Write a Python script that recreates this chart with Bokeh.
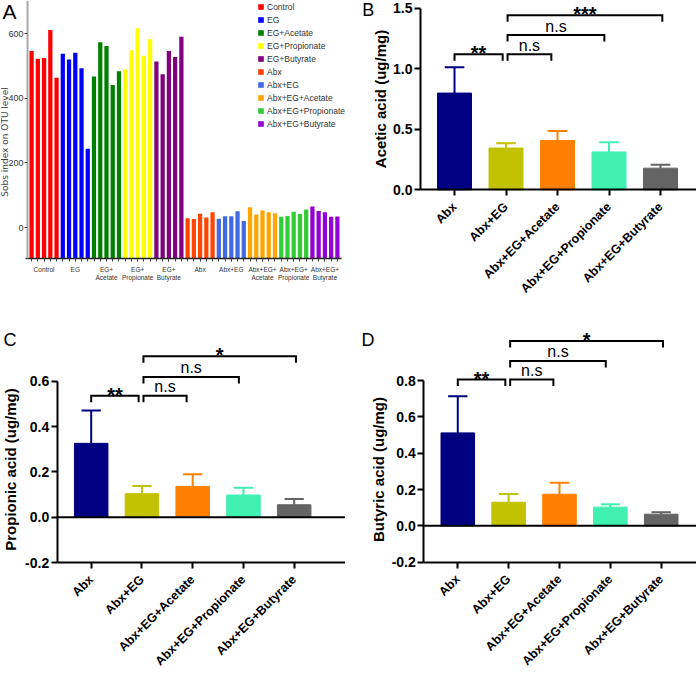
from math import pi
from bokeh.plotting import figure
from bokeh.models import Range1d, FixedTicker, Label, PrintfTickFormatter
from bokeh.layouts import column, row
from bokeh.embed import file_html
from bokeh.resources import INLINE
from bokeh.core.properties import value

FONT = "Liberation Sans"

# ---------------- Panel A data ----------------
a_groups = ["Control", "EG", "EG+Acetate", "EG+Propionate", "EG+Butyrate",
            "Abx", "Abx+EG", "Abx+EG+Acetate", "Abx+EG+Propionate", "Abx+EG+Butyrate"]
a_tick_labels = ["Control", "EG", "EG+\nAcetate", "EG+\nPropionate", "EG+\nButyrate",
                 "Abx", "Abx+EG", "Abx+EG+\nAcetate", "Abx+EG+\nPropionate", "Abx+EG+\nButyrate"]
sobs_control = [547, 523, 525, 612, 464]
sobs_eg = [538, 520, 541, 493, 244]
sobs_eg_acetate = [468, 574, 562, 441, 484]
sobs_eg_propionate = [489, 549, 617, 532, 583]
sobs_eg_butyrate = [514, 475, 547, 528, 591]
sobs_abx = [29, 26, 43, 31, 47]
sobs_abx_eg = [27, 35, 35, 50, 20]
sobs_abx_eg_acetate = [63, 40, 53, 47, 44]
sobs_abx_eg_propionate = [33, 36, 49, 42, 56]
sobs_abx_eg_butyrate = [65, 51, 47, 33, 34]
a_values = [sobs_control, sobs_eg, sobs_eg_acetate, sobs_eg_propionate, sobs_eg_butyrate,
            sobs_abx, sobs_abx_eg, sobs_abx_eg_acetate, sobs_abx_eg_propionate, sobs_abx_eg_butyrate]
a_colors = ["#FF0000", "#0000FF", "#008000", "#FFFF00", "#800080",
            "#FF4500", "#4169E1", "#FFA500", "#32CD32", "#9400D3"]
a_yticks = [0, 200, 400, 600]

# ---------------- Panels B-D data ----------------
scfa_groups = ["Abx", "Abx+EG", "Abx+EG+Acetate", "Abx+EG+Propionate", "Abx+EG+Butyrate"]
scfa_colors = ["#000080", "#C2C200", "#FF8000", "#40F0B0", "#646464"]

acetic_mean = [0.800, 0.345, 0.408, 0.313, 0.179]
acetic_err = [0.214, 0.041, 0.078, 0.081, 0.028]
propionic_mean = [0.326, 0.104, 0.136, 0.098, 0.055]
propionic_err = [0.145, 0.034, 0.054, 0.032, 0.025]
butyric_mean = [0.512, 0.130, 0.174, 0.103, 0.064]
butyric_err = [0.202, 0.046, 0.063, 0.016, 0.011]

sig_pairs = [(0, 1), (1, 2), (1, 3), (1, 4)]
acetic_sig_text = ["**", "n.s", "n.s", "***"]
acetic_sig_y = [1.122, 1.122, 1.280, 1.443]
propionic_sig_text = ["**", "n.s", "n.s", "*"]
propionic_sig_y = [0.536, 0.536, 0.619, 0.711]
butyric_sig_text = ["**", "n.s", "n.s", "*"]
butyric_sig_y = [0.806, 0.806, 0.908, 1.018]


def base_fig(width, height, xr, yr):
    p = figure(width=width, height=height, x_range=Range1d(*xr), y_range=Range1d(*yr),
               output_backend="svg", toolbar_location=None,
               min_border_left=0, min_border_right=0,
               min_border_top=0, min_border_bottom=0)
    p.outline_line_color = None
    p.xgrid.visible = False
    p.ygrid.visible = False
    p.background_fill_color = "white"
    return p


def side_label(p, text, x, y_from_top, size, style, color="black", font=FONT):
    p.add_layout(Label(x=x, y=p.height - y_from_top, x_units="screen", y_units="screen",
                       text=text, angle=pi / 2, text_font=font, text_font_size=size,
                       text_font_style=style, text_color=color,
                       text_align="center", text_baseline="middle"))


def letter(p, text, x, y_from_top, size):
    p.add_layout(Label(x=x, y=p.height - y_from_top, x_units="screen", y_units="screen",
                       text=text, text_font=FONT, text_font_size=size,
                       text_align="left", text_baseline="middle", text_color="black"))


# ---------------- Panel A ----------------
A_YMIN = -96
pa = base_fig(345, 328, (-4.984, 50.30), (-312.7, 703))
n_per = len(sobs_control)
for g, (name, vals, col) in enumerate(zip(a_groups, a_values, a_colors)):
    xs = [g * n_per + j for j in range(n_per)]
    pa.vbar(x=xs, top=vals, bottom=A_YMIN, width=0.68, fill_color=col,
            line_color=None, legend_label=name)

ya = pa.yaxis[0]
ya.fixed_location = -0.657
ya.bounds = (A_YMIN, 703)
ya.ticker = FixedTicker(ticks=a_yticks)
ya.axis_line_color = "#A8A8A8"
ya.axis_line_width = 2
ya.major_tick_out = 3
ya.major_tick_in = 0
ya.major_tick_line_color = "#444444"
ya.minor_tick_line_color = None
ya.major_label_text_font = FONT
ya.major_label_text_font_size = "9px"
ya.major_label_text_color = "#333333"
ya.major_label_standoff = 1

group_centers = [g * n_per + (n_per - 1) / 2 for g in range(len(a_groups))]
xa = pa.xaxis[0]
xa.fixed_location = A_YMIN
xa.bounds = (-0.978, 49.63)
xa.ticker = FixedTicker(ticks=group_centers, minor_ticks=list(range(len(a_groups) * n_per)))
xa.major_label_overrides = {c: lab for c, lab in zip(group_centers, a_tick_labels)}
xa.major_label_text_font = FONT
xa.major_label_text_font_size = "6.5px"
xa.major_label_text_color = "#333333"
xa.major_label_standoff = 4
xa.axis_line_color = "#222222"
xa.axis_line_width = 1.5
xa.major_tick_out = 3
xa.major_tick_in = 0
xa.minor_tick_out = 3
xa.minor_tick_in = 0
xa.major_tick_line_color = "#444444"
xa.minor_tick_line_color = "#444444"

lg = pa.legend[0]
lg.location = (257, 198)
lg.label_text_font = FONT
lg.label_text_font_size = "8.5px"
lg.label_text_color = "#333333"
lg.glyph_width = 7
lg.glyph_height = 7
lg.label_height = 13
lg.label_standoff = 3
lg.spacing = 0
lg.padding = 0
lg.margin = 0
lg.background_fill_alpha = 0
lg.border_line_alpha = 0

side_label(pa, "Sobs index on OTU level", 4.6, 141.5, "9px", "normal", "#444444",
           font="DejaVu Sans")
letter(pa, "A", 2, 10.5, "21px")


# ---------------- Panels B-D ----------------
def scfa_panel(means, errs, sig_y, sig_text, ylabel, xr, yr, y_axis_x, ybounds, yticks,
               x_axis_y, width, height, zero_line, lab_xy, let, let_xy):
    xs = list(range(len(scfa_groups)))
    p = base_fig(width, height, xr, yr)
    p.vbar(x=xs, top=means, bottom=0, width=0.66, fill_color=scfa_colors,
           line_color=scfa_colors, line_width=1)
    tops = [m + e for m, e in zip(means, errs)]
    p.segment(x0=xs, y0=means, x1=xs, y1=tops, line_color=scfa_colors, line_width=2)
    cap = 0.19
    p.segment(x0=[x - cap for x in xs], y0=tops, x1=[x + cap for x in xs], y1=tops,
              line_color=scfa_colors, line_width=2)
    if zero_line:
        p.segment(x0=[y_axis_x], y0=[0], x1=[xr[1]], y1=[0], line_color="black", line_width=2)

    # significance brackets
    px = (yr[1] - yr[0]) / height
    leg = 6.5 * px
    start_off = {0: 0.0, 1: 0.03}
    end_off = {1: -0.065, 2: -0.12, 3: -0.09, 4: 0.035}
    bxs, bys, tx, ty = [], [], [], []
    for (i, j), yv in zip(sig_pairs, sig_y):
        x0 = xs[i] + start_off[i]
        x1 = xs[j] + end_off[j]
        bxs.append([x0, x0, x1, x1])
        bys.append([yv - leg, yv, yv, yv - leg])
        tx.append((x0 + x1) / 2)
        ty.append(yv)
    p.multi_line(xs=bxs, ys=bys, line_color="black", line_width=2, line_join="miter")
    star = [k for k, t in enumerate(sig_text) if t.startswith("*")]
    ns = [k for k, t in enumerate(sig_text) if not t.startswith("*")]
    p.text(x=[tx[k] for k in star], y=[ty[k] for k in star], text=[sig_text[k] for k in star],
           text_font=value(FONT), text_font_size="20px", text_font_style="bold",
           text_align="center", text_baseline="middle", y_offset=-1, text_color="black")
    p.text(x=[tx[k] for k in ns], y=[ty[k] for k in ns], text=[sig_text[k] for k in ns],
           text_font=value(FONT), text_font_size="16px", text_font_style="normal",
           text_align="center", text_baseline="middle", y_offset=-9, text_color="black")

    # axes
    yax = p.yaxis[0]
    xax = p.xaxis[0]
    yax.fixed_location = y_axis_x
    yax.bounds = ybounds
    yax.ticker = FixedTicker(ticks=yticks)
    yax.formatter = PrintfTickFormatter(format="%.1f")
    xax.fixed_location = x_axis_y
    xax.bounds = (y_axis_x, xr[1])
    xax.ticker = FixedTicker(ticks=xs)
    xax.major_label_overrides = {x: g for x, g in zip(xs, scfa_groups)}
    xax.major_label_orientation = pi / 4
    for ax in (xax, yax):
        ax.axis_line_width = 2
        ax.axis_line_color = "black"
        ax.major_tick_line_width = 2
        ax.major_tick_line_color = "black"
        ax.major_tick_out = 6
        ax.major_tick_in = 0
        ax.minor_tick_line_color = None
        ax.major_label_text_font = FONT
        ax.major_label_text_font_style = "bold"
        ax.major_label_text_color = "black"
    yax.major_label_text_font_size = "14px"
    yax.major_label_standoff = 2
    xax.major_label_text_font_size = "12.5px"
    xax.major_label_standoff = 9

    side_label(p, ylabel, lab_xy[0], lab_xy[1], "15px", "bold")
    letter(p, let, let_xy[0], let_xy[1], "18px")
    return p


pb = scfa_panel(acetic_mean, acetic_err, acetic_sig_y, acetic_sig_text, "Acetic acid (ug/mg)",
                (-2.117, 4.699), (-1.1475, 1.566), -0.660, (0, 1.5), [0, 0.5, 1.0, 1.5],
                0, 351, 328, False, (34.5, 98.5), "B", (16.7, 9.2))
pc = scfa_panel(propionic_mean, propionic_err, propionic_sig_y, propionic_sig_text,
                "Propionic acid (ug/mg)",
                (-1.787, 5.011), (-0.712, 0.833), -0.670, (-0.2, 0.6),
                [-0.2, 0.0, 0.2, 0.4, 0.6], -0.2, 345, 350, True, (10, 141), "C", (3, 11.5))
pd_ = scfa_panel(butyric_mean, butyric_err, butyric_sig_y, butyric_sig_text,
                 "Butyric acid (ug/mg)",
                 (-2.208, 4.694), (-0.841, 1.087), -0.669, (-0.2, 0.8),
                 [-0.2, 0.0, 0.2, 0.4, 0.6, 0.8], -0.2, 351, 350, True, (32.5, 141), "D",
                 (16, 11.5))

layout = column(row(pa, pb), row(pc, pd_))
open("out.html", "w").write(file_html(layout, INLINE))
